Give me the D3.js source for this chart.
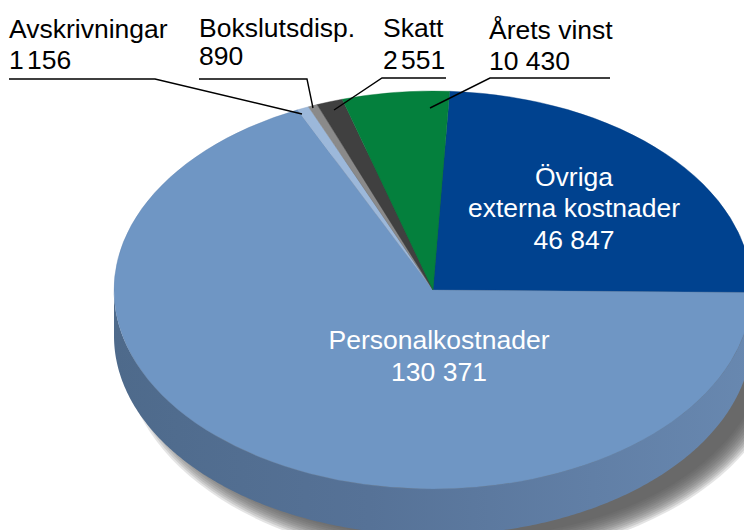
<!DOCTYPE html>
<html><head><meta charset="utf-8">
<script src="https://cdnjs.cloudflare.com/ajax/libs/d3/7.8.5/d3.min.js"></script>
<style>html,body{margin:0;padding:0;background:#fff;overflow:hidden}svg{display:block}text{font-family:"Liberation Sans",Arial,sans-serif}</style>
</head><body><div id="chart"></div>
<script>
const categories = ["Övriga externa kostnader","Personalkostnader","Avskrivningar","Bokslutsdisp.","Skatt","Årets vinst"];
const values = [46847,130371,1156,890,2551,10430];
const valueLabels = ["46 847","130 371","1 156","890","2 551","10 430"];
const colors = ["#00428f","#6f96c4","#9cb8da","#8a8a8a","#404040","#04803d"];

const W=744,H=530,cx=433,cy=290,rx=319,ry=199,depth=46;
const startDeg=3;
const toRad=Math.PI/180;
const svg=d3.select("#chart").append("svg").attr("width",W).attr("height",H).attr("viewBox",`0 0 ${W} ${H}`);
const defs=svg.append("defs");
const grad=defs.append("linearGradient").attr("id","wall").attr("gradientUnits","userSpaceOnUse")
  .attr("x1",cx-rx).attr("x2",cx+rx).attr("y1",0).attr("y2",0);
[[0,"#4e6a8b"],[0.4,"#567297"],[0.75,"#617fa6"],[1,"#6888b0"]].forEach(s=>grad.append("stop").attr("offset",s[0]).attr("stop-color",s[1]));

const pie=d3.pie().sort(null).value(d=>d).startAngle(startDeg*toRad).endAngle((startDeg+360)*toRad);
const arcs=pie(values);
const pt=(a,dy=0)=>[cx+rx*Math.sin(a),cy-ry*Math.cos(a)+dy];

// soft shadow: stacked translucent ellipses, outermost first
svg.append("g").selectAll("ellipse").data(d3.range(12,-12,-2)).join("ellipse")
  .attr("cx",cx+22).attr("cy",cy+depth+14)
  .attr("rx",d=>rx+d).attr("ry",d=>ry+d)
  .attr("fill","#555").attr("fill-opacity",0.16);

// wall of the visible front half
const a0=arcs[0].endAngle, a1=3*Math.PI/2;
const step=d3.range(a0,a1,0.01).concat([a1]);
const wall=step.map(a=>pt(a,0)).concat(step.slice().reverse().map(a=>pt(a,depth)));
svg.append("path").attr("d",d3.line()(wall)+"Z").attr("fill","url(#wall)");

// top face
const arc=d3.arc().innerRadius(0).outerRadius(rx);
svg.append("g").attr("transform",`translate(${cx},${cy}) scale(1,${ry/rx})`)
  .selectAll("path").data(arcs).join("path")
  .attr("d",arc).attr("fill",(d,i)=>colors[i])
  .attr("stroke",(d,i)=>d3.color(colors[i]).darker(0.25)).attr("stroke-width",0.5);

// leader lines
const leaders=[
  [[9,79],[155,79],[302,114]],
  [[199,79],[307,79],[313,108]],
  [[446,78],[382,78],[334,110]],
  [[610,78],[490,78],[430,108]]
];
svg.append("g").selectAll("path").data(leaders).join("path")
  .attr("d",d=>d3.line()(d)).attr("fill","none").attr("stroke","#000").attr("stroke-width",1.4);

// labels
const fs=26.5;
const labelAt=[
  {i:2,x:9,y:[38,69],tight:-4},
  {i:3,x:199,y:[37,65],tight:0},
  {i:4,x:383,y:[37,69],tight:-4},
  {i:5,x:489,y:[39,70],tight:0}
];
labelAt.forEach(l=>{
  const t=svg.append("text").attr("font-size",fs).attr("fill","#000");
  t.append("tspan").attr("x",l.x).attr("y",l.y[0]).text(categories[l.i]);
  t.append("tspan").attr("x",l.x).attr("y",l.y[1]).style("word-spacing",l.tight+"px").text(valueLabels[l.i]);
});
const t0=svg.append("text").attr("font-size",fs).attr("fill","#fff").attr("text-anchor","middle");
[["Övriga",574,186],["externa kostnader",574,217],[valueLabels[0],574,249]].forEach(r=>t0.append("tspan").attr("x",r[1]).attr("y",r[2]).text(r[0]));
const t1=svg.append("text").attr("font-size",fs).attr("fill","#fff").attr("text-anchor","middle");
[[categories[1],439,349],[valueLabels[1],439,381]].forEach(r=>t1.append("tspan").attr("x",r[1]).attr("y",r[2]).text(r[0]));
</script></body></html>
